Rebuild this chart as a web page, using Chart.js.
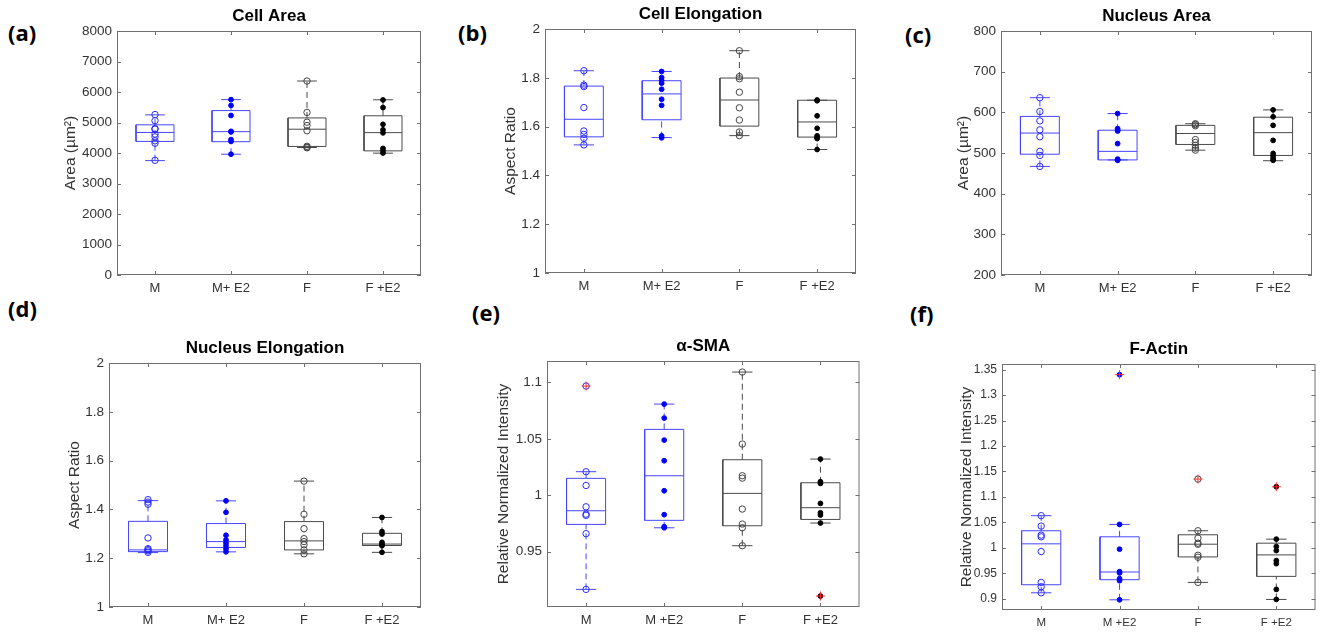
<!DOCTYPE html>
<html>
<head>
<meta charset="utf-8">
<script src="https://cdn.jsdelivr.net/npm/chart.js@4.4.1/dist/chart.umd.min.js"></script>
<style>
  body { margin: 0; background: #fff; width: 1322px; height: 635px; position: relative; overflow: hidden; }
  canvas { position: absolute; }
  .tag { position: absolute; font: bold 22px/22px 'Open Sans', 'Liberation Sans', sans-serif; color: #000; }
</style>
</head>
<body>
<div class="tag" style="left:8px;top:21px">(a)</div>
<div class="tag" style="left:458px;top:21px">(b)</div>
<div class="tag" style="left:905px;top:23px">(c)</div>
<div class="tag" style="left:8px;top:297px">(d)</div>
<div class="tag" style="left:472px;top:301px">(e)</div>
<div class="tag" style="left:910px;top:302px">(f)</div>

<canvas id="cA"></canvas>
<canvas id="cB"></canvas>
<canvas id="cC"></canvas>
<canvas id="cD"></canvas>
<canvas id="cE"></canvas>
<canvas id="cF"></canvas>

<script>
// group labels
const groupsTop = ['M', 'M+ E2', 'F', 'F +E2'];
const groupsBottom = ['M', 'M +E2', 'F', 'F +E2'];

// box stats per group: [lower whisker, q1, median, q3, upper whisker]
// (a) Cell Area
const cellAreaTicks = [0, 1000, 2000, 3000, 4000, 5000, 6000, 7000, 8000];
const cellAreaBox = [[3750, 4380, 4674, 4924, 5250], [3960, 4370, 4700, 5390, 5750], [4180, 4215, 4780, 5150, 6360], [3995, 4070, 4668, 5220, 5745]];
const cellAreaPts = [
  [5260, 5060, 4800, 4780, 4620, 4530, 4400, 4320, 3760],
  [5750, 5560, 5230, 4710, 4690, 4440, 4380, 3960],
  [6360, 5330, 5010, 4900, 4730, 4220, 4190, 4170],
  [5740, 5490, 4940, 4760, 4660, 4150, 4080, 4000]
];
const cellAreaOut = [[], [], [], []];

// (b) Cell Elongation
const cellElongTicks = [1, 1.2, 1.4, 1.6, 1.8, 2];
const cellElongBox = [[1.525, 1.558, 1.630, 1.766, 1.829], [1.555, 1.628, 1.734, 1.788, 1.826], [1.563, 1.602, 1.709, 1.799, 1.911], [1.506, 1.557, 1.619, 1.708, 1.708]];
const cellElongPts = [
  [1.829, 1.770, 1.764, 1.678, 1.582, 1.568, 1.552, 1.525],
  [1.826, 1.801, 1.789, 1.778, 1.753, 1.712, 1.687, 1.562, 1.554],
  [1.911, 1.805, 1.796, 1.741, 1.677, 1.627, 1.578, 1.563],
  [1.709, 1.706, 1.644, 1.593, 1.562, 1.555, 1.551, 1.506]
];
const cellElongOut = [[], [], [], []];

// (c) Nucleus Area
const nucAreaTicks = [200, 300, 400, 500, 600, 700, 800];
const nucAreaBox = [[467, 497, 549, 590, 636], [483, 483, 504, 556, 597], [507, 521, 548, 568, 572], [481, 494, 550, 588, 606]];
const nucAreaPts = [
  [636, 602, 579, 557, 540, 504, 494, 467],
  [597, 560, 556, 554, 523, 485, 483, 482],
  [572, 570, 567, 533, 526, 519, 512, 507],
  [606, 589, 568, 531, 499, 493, 487, 482]
];
const nucAreaOut = [[], [], [], []];

// (d) Nucleus Elongation
const nucElongTicks = [1, 1.2, 1.4, 1.6, 1.8, 2];
const nucElongBox = [[1.223, 1.227, 1.234, 1.351, 1.436], [1.226, 1.244, 1.268, 1.342, 1.435], [1.218, 1.234, 1.271, 1.350, 1.516], [1.224, 1.252, 1.258, 1.302, 1.367]];
const nucElongPts = [
  [1.440, 1.430, 1.421, 1.283, 1.239, 1.235, 1.230, 1.224],
  [1.435, 1.388, 1.294, 1.275, 1.262, 1.251, 1.238, 1.226],
  [1.516, 1.380, 1.321, 1.280, 1.268, 1.255, 1.234, 1.218],
  [1.367, 1.309, 1.299, 1.265, 1.257, 1.251, 1.224]
];
const nucElongOut = [[], [], [], []];

// (e) alpha-SMA
const smaTicks = [0.95, 1, 1.05, 1.1];
const smaBox = [[0.9166, 0.9742, 0.9863, 1.0150, 1.0209], [0.9712, 0.9778, 1.0173, 1.0584, 1.0808], [0.9553, 0.9730, 1.0017, 1.0315, 1.1092], [0.9754, 0.9786, 0.9890, 1.0111, 1.0321]];
const smaPts = [
  [1.0209, 1.0087, 0.9898, 0.9833, 0.9822, 0.9660, 0.9166],
  [1.0808, 1.0684, 1.0489, 1.0306, 1.0040, 0.9828, 0.9721, 0.9712],
  [1.1092, 1.0454, 1.0173, 1.0152, 0.9878, 0.9745, 0.9712, 0.9553],
  [1.0321, 1.0120, 1.0105, 0.9928, 0.9845, 0.9825, 0.9754]
];
const smaOut = [[1.0968], [], [], [0.9107]];

// (f) F-Actin
const actinTicks = [0.9, 0.95, 1, 1.05, 1.1, 1.15, 1.2, 1.25, 1.3, 1.35];
const actinBox = [[0.9118, 0.9276, 1.0079, 1.0336, 1.0632], [0.8980, 0.9375, 0.9526, 1.0217, 1.0460], [0.9322, 0.9822, 1.0072, 1.0257, 1.0336], [0.8987, 0.9440, 0.9862, 1.0092, 1.0171]];
const actinPts = [
  [1.0632, 1.0428, 1.0250, 1.0217, 0.9928, 0.9322, 0.9237, 0.9118],
  [1.0460, 0.9974, 0.9533, 0.9507, 0.9395, 0.9355, 0.8980],
  [1.0336, 1.0191, 1.0092, 1.0070, 0.9855, 0.9816, 0.9322],
  [1.0171, 1.0026, 0.9947, 0.9750, 0.9690, 0.9184, 0.8987]
];
const actinOut = [[], [1.340], [1.135], [1.120]];

// group styles
const boxColor = ['#4646ff', '#4646ff', '#4a4a4a', '#4a4a4a'];
const markColor = ['#2a2aff', '#0000ff', '#444444', '#000000'];
const filled = [false, true, false, true];
const BW = 0.25, CW = 0.13;

Chart.defaults.font.family = "'Liberation Sans', Arial, sans-serif";
Chart.defaults.color = '#333';

// frame + inward tick marks like matlab
const framePlugin = {
  id: 'frame',
  afterDatasetsDraw(chart) {
    const { ctx, chartArea: a, scales: { x, y } } = chart;
    ctx.save();
    ctx.strokeStyle = '#707070';
    ctx.lineWidth = 1;
    ctx.strokeRect(a.left + 0.5, a.top + 0.5, a.right - a.left - 1, a.bottom - a.top - 1);
    ctx.beginPath();
    y.ticks.forEach(t => {
      const py = Math.round(y.getPixelForValue(t.value)) + 0.5;
      ctx.moveTo(a.left, py); ctx.lineTo(a.left + 4, py);
      ctx.moveTo(a.right, py); ctx.lineTo(a.right - 4, py);
    });
    x.ticks.forEach(t => {
      const px = Math.round(x.getPixelForValue(t.value)) + 0.5;
      ctx.moveTo(px, a.bottom); ctx.lineTo(px, a.bottom - 4);
      ctx.moveTo(px, a.top); ctx.lineTo(px, a.top + 4);
    });
    ctx.stroke();
    ctx.restore();
  }
};

function boxDatasets(box, pts, out) {
  const ds = [];
  box.forEach((b, i) => {
    const x = i + 1;
    const [lo, q1, med, q3, hi] = b;
    const line = (data, dash) => ds.push({
      data, showLine: true, borderColor: boxColor[i], borderWidth: 1,
      borderDash: dash || [], pointRadius: 0, order: 2
    });
    line([{ x: x - BW, y: q1 }, { x: x + BW, y: q1 }, { x: x + BW, y: q3 }, { x: x - BW, y: q3 }, { x: x - BW, y: q1 }]);
    line([{ x: x - BW, y: med }, { x: x + BW, y: med }]);
    line([{ x: x, y: q3 }, { x: x, y: hi }], [6, 4]);
    line([{ x: x, y: lo }, { x: x, y: q1 }], [6, 4]);
    line([{ x: x - CW, y: hi }, { x: x + CW, y: hi }]);
    line([{ x: x - CW, y: lo }, { x: x + CW, y: lo }]);

    const all = pts[i].concat(out[i]);
    ds.push({
      data: all.map(v => ({ x, y: v })),
      pointStyle: 'circle',
      pointRadius: filled[i] ? 2.4 : 3.2,
      backgroundColor: filled[i] ? markColor[i] : 'rgba(255,255,255,0)',
      borderColor: markColor[i],
      borderWidth: 1,
      order: 1
    });
    if (out[i].length) {
      ds.push({
        data: out[i].map(v => ({ x, y: v })),
        pointStyle: 'cross', pointRadius: 4.5,
        borderColor: '#ff2a2a', borderWidth: 1, order: 0
      });
    }
  });
  return ds;
}

// layout: plot rect [left, top, right, bottom], y axis width
const panels = [
  { id: 'cA', plot: [117, 31, 423, 275], yw: 56, title: 'Cell Area', ylab: 'Area (µm²)', min: 0, max: 8000, ticks: cellAreaTicks, box: cellAreaBox, pts: cellAreaPts, out: cellAreaOut, groups: groupsTop, fs: 13.5, xfs: 13 },
  { id: 'cB', plot: [545, 29, 858, 273], yw: 44, title: 'Cell Elongation', ylab: 'Aspect Ratio', min: 1, max: 2, ticks: cellElongTicks, box: cellElongBox, pts: cellElongPts, out: cellElongOut, groups: groupsTop, fs: 13.5, xfs: 13 },
  { id: 'cC', plot: [1001, 31, 1314, 275], yw: 47, title: 'Nucleus Area', ylab: 'Area (µm²)', min: 200, max: 800, ticks: nucAreaTicks, box: nucAreaBox, pts: nucAreaPts, out: nucAreaOut, groups: groupsTop, fs: 13.5, xfs: 13 },
  { id: 'cD', plot: [109, 363, 423, 607], yw: 44, title: 'Nucleus Elongation', ylab: 'Aspect Ratio', min: 1, max: 2, ticks: nucElongTicks, box: nucElongBox, pts: nucElongPts, out: nucElongOut, groups: groupsTop, fs: 13.5, xfs: 13 },
  { id: 'cE', plot: [547, 361, 862, 607], yw: 53, title: 'α-SMA', ylab: 'Relative Normalized Intensity', min: 0.901, max: 1.119, ticks: smaTicks, box: smaBox, pts: smaPts, out: smaOut, groups: groupsBottom, fs: 13.5, xfs: 13 },
  { id: 'cF', plot: [1002, 364, 1318, 610], yw: 45, title: 'F-Actin', ylab: 'Relative Normalized Intensity', min: 0.878, max: 1.361, ticks: actinTicks, box: actinBox, pts: actinPts, out: actinOut, groups: groupsBottom, fs: 12, xfs: 11.5 }
];

const TITLE_H = 30, XAX_H = 25, PAD_R = 3;

panels.forEach(p => {
  const [l, t, r, b] = p.plot;
  const cv = document.getElementById(p.id);
  cv.width = p.yw + (r - l) + PAD_R;
  cv.height = TITLE_H + (b - t) + XAX_H;
  cv.style.left = (l - p.yw) + 'px';
  cv.style.top = (t - TITLE_H) + 'px';

  new Chart(cv.getContext('2d'), {
    type: 'scatter',
    data: { datasets: boxDatasets(p.box, p.pts, p.out) },
    options: {
      responsive: false,
      animation: false,
      layout: { padding: { left: 0, top: 0, right: PAD_R, bottom: 0 } },
      plugins: {
        legend: { display: false },
        tooltip: { enabled: false },
        title: {
          display: true, text: p.title, fullSize: false, color: '#000',
          font: { size: 17, weight: 'bold' }, padding: { top: 5.6, bottom: 4 }
        }
      },
      scales: {
        x: {
          type: 'linear', min: 0.5, max: 4.5,
          grid: { display: false, drawTicks: false }, border: { display: false },
          afterBuildTicks: s => { s.ticks = [1, 2, 3, 4].map(v => ({ value: v })); },
          afterFit: s => { s.height = XAX_H; },
          ticks: { callback: (v, i) => p.groups[i], padding: 6, color: '#333', font: { size: p.xfs }, maxRotation: 0, autoSkip: false }
        },
        y: {
          type: 'linear', min: p.min, max: p.max,
          grid: { display: false, drawTicks: false }, border: { display: false },
          afterBuildTicks: s => { s.ticks = p.ticks.map(v => ({ value: v })); },
          afterFit: s => { s.width = p.yw; },
          ticks: { callback: v => String(v), padding: 5, color: '#333', font: { size: p.fs }, autoSkip: false },
          title: { display: true, text: p.ylab, color: '#333', font: { size: 15.5 }, padding: { top: 0, bottom: 0 } }
        }
      }
    },
    plugins: [framePlugin]
  });
});
</script>
</body>
</html>
